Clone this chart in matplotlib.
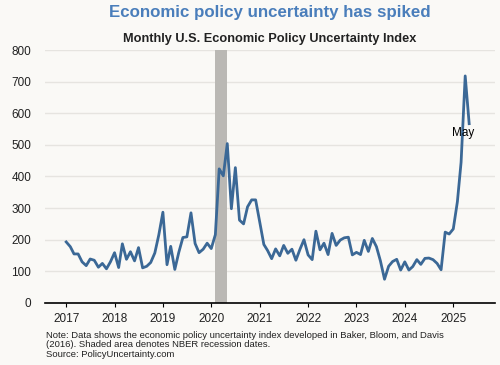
import matplotlib
matplotlib.use("Agg")
import matplotlib.pyplot as plt
import matplotlib.dates as mdates
import numpy as np
import pandas as pd

# Monthly U.S. EPU index, Jan 2017 - May 2025
epu = [
    193, 178, 155, 155, 130, 118, 139, 135, 113, 125, 108, 130,   # 2017
    159, 112, 187, 138, 162, 133, 175, 111, 116, 128, 158, 215,   # 2018
    287, 121, 179, 106, 160, 207, 209, 285, 188, 159, 170, 189,   # 2019
    172, 216, 424, 402, 504, 298, 428, 262, 250, 304, 326, 326,   # 2020
    256, 185, 166, 140, 171, 149, 182, 157, 170, 135, 170, 200,   # 2021
    152, 137, 227, 168, 189, 153, 220, 182, 199, 206, 208, 152,   # 2022
    160, 153, 198, 163, 204, 178, 133, 75, 116, 131, 138, 104,    # 2023
    130, 104, 115, 137, 122, 141, 142, 137, 125, 105, 224, 218,   # 2024
    234, 320, 445, 718, 567,                                      # 2025
]
months = pd.date_range("2017-01-01", periods=len(epu), freq="MS")
recession = ("2020-02-01", "2020-05-01")
yticks = [0, 100, 200, 300, 400, 500, 600, 700, 800]
years = list(range(2017, 2026))

bg = "#faf9f6"
plt.rcParams["font.family"] = ["Liberation Sans", "DejaVu Sans"]

fig = plt.figure(figsize=(5, 3.65), dpi=100, facecolor=bg)
ax = fig.add_axes([0.09, 0.170, 0.90, 0.693], facecolor=bg)

ax.axvspan(pd.Timestamp(recession[0]), pd.Timestamp(recession[1]),
           color="#bab8b4", lw=0, zorder=1)
ax.plot(months, epu, color="#3b6896", lw=2.0, zorder=3, solid_joinstyle="round")

ax.set_ylim(0, 800)
ax.set_yticks(yticks)
ax.set_xlim(pd.Timestamp("2016-07-25"), pd.Timestamp("2025-11-12"))
ax.set_xticks([pd.Timestamp(f"{y}-01-01") for y in years])
ax.xaxis.set_major_formatter(mdates.DateFormatter("%Y"))

ax.grid(axis="y", color="#e6e4e0", lw=1.0, zorder=0)
ax.set_axisbelow(True)
for s in ["top", "right", "left"]:
    ax.spines[s].set_visible(False)
ax.spines["bottom"].set_color("black")
ax.spines["bottom"].set_linewidth(1.2)
ax.spines["bottom"].set_zorder(4)
ax.tick_params(axis="y", length=0, pad=10, labelsize=8.5, labelcolor="#222222")
ax.tick_params(axis="x", length=3, width=0.8, color="black", pad=4,
               labelsize=8.5, labelcolor="#222222")

ax.annotate("May", xy=(months[-1], epu[-1]), xytext=(-4, -7),
            textcoords="offset points", ha="center", va="center",
            fontsize=8.5, color="black")

fig.text(0.54, 0.967, "Economic policy uncertainty has spiked", ha="center",
         va="center", fontsize=12.2, fontweight="bold", color="#4a7ebb")
fig.text(0.54, 0.893, "Monthly U.S. Economic Policy Uncertainty Index",
         ha="center", va="center", fontsize=9.2, fontweight="bold", color="#222222")
fig.text(0.092, 0.016,
         "Note: Data shows the economic policy uncertainty index developed in Baker, Bloom, and Davis\n"
         "(2016). Shaded area denotes NBER recession dates.\n"
         "Source: PolicyUncertainty.com",
         ha="left", va="bottom", fontsize=6.8, linespacing=1.1, color="#222222")

fig.savefig("out.png", dpi=100, facecolor=bg)
